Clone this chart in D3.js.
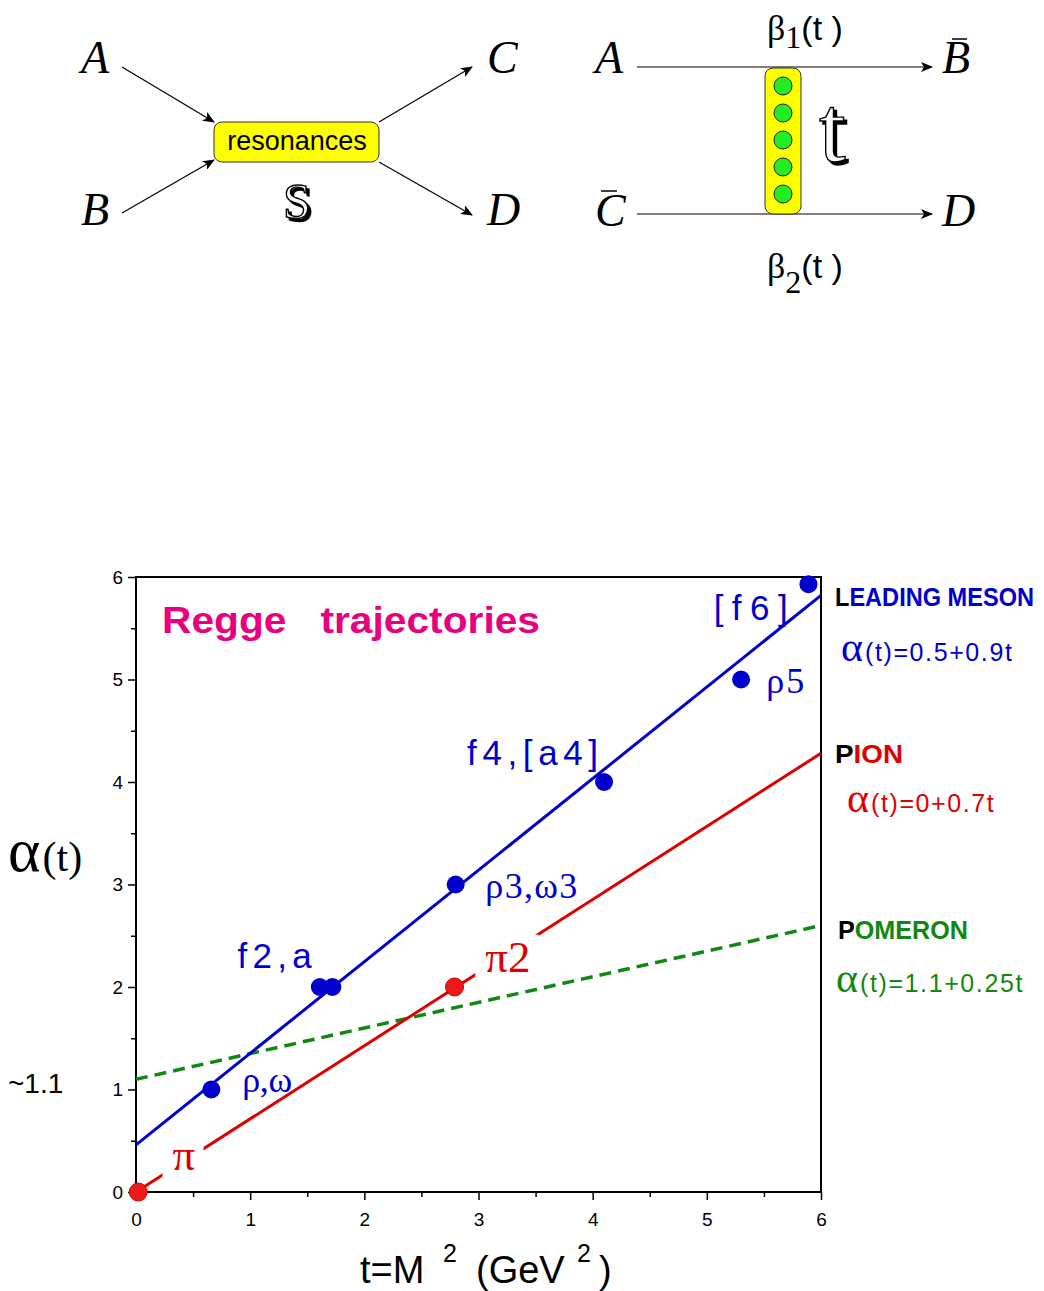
<!DOCTYPE html>
<html>
<head>
<meta charset="utf-8">
<script src="https://cdn.jsdelivr.net/npm/d3@7/dist/d3.min.js"></script>
<style>
  html, body { margin: 0; padding: 0; background: #fff; }
  svg { display: block; }
  .sans { font-family: "Liberation Sans", Arial, sans-serif; }
  .serif { font-family: "Liberation Serif", "Times New Roman", serif; }
</style>
</head>
<body>
<svg id="chart" width="1044" height="1291"></svg>
<script>
// --- data ---
const xTicks = [0, 1, 2, 3, 4, 5, 6];
const yTicks = [0, 1, 2, 3, 4, 5, 6];
const minorTicks = [0.5, 1.5, 2.5, 3.5, 4.5, 5.5];

// leading meson states (t = M^2, alpha)
const mesonT = [0.66, 1.61, 1.72, 2.80, 4.10, 5.30, 5.89];
const mesonAlpha = [1, 2, 2, 3, 4, 5, 5.93];
// pion states
const pionT = [0.02, 2.79];
const pionAlpha = [0, 2];

// trajectory lines (end points)
const mesonLine = [[0, 0.46], [6, 5.82]];
const pionLine = [[0, 0], [6, 4.28]];
const pomeronLine = [[0, 1.1], [6, 2.6]];

// state labels: text, t, alpha of baseline start
const mesonLabels = [
  { text: '[f6]', t: 5.06, a: 5.58, font: 'sans' },
  { text: 'ρ5', t: 5.52, a: 4.87, font: 'serif' },
  { text: 'f4,[a4]', t: 2.90, a: 4.17, font: 'sans' },
  { text: 'ρ3,ω3', t: 3.06, a: 2.87, font: 'serif' },
  { text: 'f2,a', t: 0.89, a: 2.19, font: 'sans' },
  { text: 'ρ,ω', t: 0.93, a: 0.98, font: 'serif' }
];
const pionLabels = [
  { text: 'π', t: 0.32, a: 0.21 },
  { text: 'π2', t: 3.06, a: 2.15 }
];

const BLUE = '#0000cc', RED = '#dd0000', GREEN = '#118811', PINK = '#e8007f';

const svg = d3.select('#chart');

// ================= top diagrams =================
const defs = svg.append('defs');
defs.append('marker')
    .attr('id', 'arr')
    .attr('viewBox', '0 0 12 10')
    .attr('refX', 11).attr('refY', 5)
    .attr('markerWidth', 12).attr('markerHeight', 10)
    .attr('markerUnits', 'userSpaceOnUse')
    .attr('orient', 'auto')
  .append('path')
    .attr('d', 'M0,0 L12,5 L0,10 L3,5 Z')
    .attr('fill', '#000');
// black drop shadow for the outlined letters
const shadow = defs.append('filter').attr('id', 'shadow')
    .attr('x', '-20%').attr('y', '-20%').attr('width', '150%').attr('height', '150%');
shadow.append('feOffset').attr('in', 'SourceAlpha').attr('dx', 3).attr('dy', 3).attr('result', 'off');
const merge = shadow.append('feMerge');
merge.append('feMergeNode').attr('in', 'off');
merge.append('feMergeNode').attr('in', 'SourceGraphic');

const diag = svg.append('g');

function letter(x, y, s) {
  diag.append('text').attr('class', 'serif')
     .attr('x', x).attr('y', y)
     .attr('font-size', 46).attr('font-style', 'italic')
     .text(s);
}
function arrow(x1, y1, x2, y2) {
  diag.append('line').attr('x1', x1).attr('y1', y1).attr('x2', x2).attr('y2', y2)
     .attr('stroke', '#000').attr('stroke-width', 1.2)
     .attr('marker-end', 'url(#arr)');
}

// s-channel
letter(81, 73, 'A');
letter(81, 225, 'B');
letter(487, 73, 'C');
letter(487, 225, 'D');
arrow(122, 67, 214, 122);
arrow(122, 213, 214, 160);
arrow(379, 122, 472, 67);
arrow(379, 162, 472, 215);
diag.append('rect').attr('x', 214).attr('y', 122).attr('width', 165).attr('height', 40)
   .attr('rx', 8).attr('fill', '#ffff00').attr('stroke', '#333').attr('stroke-width', 1);
diag.append('text').attr('class', 'sans').attr('x', 297).attr('y', 150)
   .attr('text-anchor', 'middle').attr('font-size', 27).text('resonances');
// outlined S with shadow
diag.append('text').attr('class', 'serif').attr('x', 297).attr('y', 218)
   .attr('text-anchor', 'middle').attr('font-size', 50).attr('fill', '#fff')
   .attr('stroke', '#000').attr('stroke-width', 1.4)
   .attr('filter', 'url(#shadow)').text('S');

// t-channel
letter(595, 73, 'A');
letter(942, 73, 'B');
letter(595, 226, 'C');
letter(942, 226, 'D');
diag.append('line').attr('x1', 952).attr('x2', 967).attr('y1', 39).attr('y2', 39).attr('stroke', '#000').attr('stroke-width', 1.5);
diag.append('line').attr('x1', 601).attr('x2', 617).attr('y1', 191).attr('y2', 191).attr('stroke', '#000').attr('stroke-width', 1.5);
arrow(637, 67, 932, 67);
arrow(637, 214, 932, 214);
diag.append('rect').attr('x', 765).attr('y', 68).attr('width', 36).attr('height', 146)
   .attr('rx', 8).attr('fill', '#ffff00').attr('stroke', '#333').attr('stroke-width', 1);
diag.selectAll('circle.ex').data([86, 113, 140, 167, 194]).join('circle')
   .attr('class', 'ex').attr('cx', 783).attr('cy', d => d).attr('r', 9)
   .attr('fill', '#22ee22').attr('stroke', '#222').attr('stroke-width', 1);
diag.append('text').attr('class', 'serif').attr('x', 819).attr('y', 161)
   .attr('font-size', 96).attr('fill', '#fff').attr('stroke', '#000').attr('stroke-width', 1.4)
   .attr('filter', 'url(#shadow)').text('t');

function beta(y, sub, subDy) {
  const t = diag.append('text').attr('x', 767).attr('y', y);
  t.append('tspan').attr('class', 'serif').attr('font-size', 36).text('β');
  t.append('tspan').attr('class', 'serif').attr('font-size', 32).attr('dy', subDy).text(sub);
  t.append('tspan').attr('class', 'sans').attr('font-size', 34).attr('dy', -subDy).text('(t )');
}
beta(40, '1', 8);
beta(278, '2', 15);

// ================= Regge plot =================
const x = d3.scaleLinear().domain([0, 6]).range([136, 821]);
const y = d3.scaleLinear().domain([0, 6]).range([1192, 577]);

const plot = svg.append('g');

// left axis
plot.append('g').attr('transform', `translate(${x(0)},0)`)
  .call(d3.axisLeft(y).tickValues(yTicks).tickSize(8).tickPadding(5).tickFormat(d3.format('d')));
plot.append('g').attr('transform', `translate(${x(0)},0)`)
  .call(d3.axisLeft(y).tickValues(minorTicks).tickSize(5).tickFormat(''));
// bottom axis
plot.append('g').attr('transform', `translate(0,${y(0)})`)
  .call(d3.axisBottom(x).tickValues(xTicks).tickSize(8).tickPadding(13).tickFormat(d3.format('d')));
plot.append('g').attr('transform', `translate(0,${y(0)})`)
  .call(d3.axisBottom(x).tickValues(minorTicks).tickSize(5).tickFormat(''));
plot.selectAll('.domain').remove();
plot.selectAll('.tick line').attr('stroke', '#000').attr('stroke-width', 1.5);
plot.selectAll('.tick text').attr('font-family', '"Liberation Sans", Arial, sans-serif')
    .attr('font-size', 19).attr('fill', '#000');

// frame
plot.append('rect').attr('x', x(0)).attr('y', y(6))
    .attr('width', x(6) - x(0)).attr('height', y(0) - y(6))
    .attr('fill', 'none').attr('stroke', '#000').attr('stroke-width', 2);

const line = d3.line().x(d => x(d[0])).y(d => y(d[1]));

plot.append('path').datum(pomeronLine).attr('d', line)
    .attr('stroke', GREEN).attr('stroke-width', 3.5).attr('fill', 'none')
    .attr('stroke-dasharray', '12,7');
plot.append('path').datum(pionLine).attr('d', line)
    .attr('stroke', RED).attr('stroke-width', 3).attr('fill', 'none');
plot.append('path').datum(mesonLine).attr('d', line)
    .attr('stroke', BLUE).attr('stroke-width', 3).attr('fill', 'none');

// pion labels sit on white patches that hide the trajectory
const pionG = plot.append('g');
pionLabels.forEach(l => {
  const g = pionG.append('g');
  const rect = g.append('rect').attr('fill', '#fff');
  const txt = g.append('text').attr('class', 'serif')
    .attr('x', x(l.t)).attr('y', y(l.a))
    .attr('font-size', 45).attr('fill', RED).text(l.text);
  const b = txt.node().getBBox();
  rect.attr('x', b.x - 10).attr('y', b.y + 3).attr('width', b.width + 18).attr('height', b.height - 4);
});

// meson labels, stretched to the widths seen in the picture
const labelWidth = { '[f6]': 74, 'ρ5': 38, 'f4,[a4]': 131, 'ρ3,ω3': 92, 'f2,a': 74, 'ρ,ω': 50 };
plot.selectAll('text.mlab').data(mesonLabels).join('text')
    .attr('class', d => 'mlab ' + d.font)
    .attr('x', d => x(d.t)).attr('y', d => y(d.a))
    .attr('font-size', d => d.font === 'sans' ? 35 : 36)
    .attr('textLength', d => labelWidth[d.text])
    .attr('lengthAdjust', 'spacing')
    .attr('fill', BLUE)
    .text(d => d.text);

// points
plot.selectAll('circle.meson').data(mesonT).join('circle')
    .attr('class', 'meson')
    .attr('cx', d => x(d)).attr('cy', (d, i) => y(mesonAlpha[i]))
    .attr('r', 9).attr('fill', BLUE);
plot.selectAll('circle.pion').data(pionT).join('circle')
    .attr('class', 'pion')
    .attr('cx', d => x(d)).attr('cy', (d, i) => y(pionAlpha[i]))
    .attr('r', 9).attr('fill', '#ee1a1a').attr('stroke', '#cc0000').attr('stroke-width', 1);

// title
svg.append('text').attr('class', 'sans').attr('x', 162).attr('y', 633)
   .attr('font-size', 36).attr('font-weight', 'bold').attr('fill', PINK)
   .attr('textLength', 378).attr('lengthAdjust', 'spacingAndGlyphs')
   .attr('xml:space', 'preserve')
   .text('Regge   trajectories');

// right side legend
function head(xp, yp, first, rest, color, len) {
  const t = svg.append('text').attr('class', 'sans').attr('x', xp).attr('y', yp)
    .attr('font-size', 25).attr('font-weight', 'bold')
    .attr('textLength', len).attr('lengthAdjust', 'spacingAndGlyphs');
  t.append('tspan').attr('fill', '#000').text(first);
  t.append('tspan').attr('fill', color).text(rest);
}
function formula(xp, yp, rest, color) {
  const t = svg.append('text').attr('x', xp).attr('y', yp).attr('fill', color);
  t.append('tspan').attr('class', 'serif').attr('font-size', 42).text('α');
  t.append('tspan').attr('class', 'sans').attr('font-size', 25).attr('dx', 2)
   .attr('letter-spacing', 1.6).text(rest);
}
head(835, 606, 'L', 'EADING MESON', BLUE, 199);
formula(841, 661, '(t)=0.5+0.9t', BLUE);
head(835, 763, 'P', 'ION', RED, 68);
formula(847, 812, '(t)=0+0.7t', RED);
head(838, 939, 'P', 'OMERON', GREEN, 130);
formula(836, 992, '(t)=1.1+0.25t', GREEN);

// y axis title
const yt = svg.append('text').attr('x', 8).attr('y', 871).attr('class', 'serif');
yt.append('tspan').attr('font-size', 62).text('α');
yt.append('tspan').attr('font-size', 42).attr('dx', 2).text('(t)');
svg.append('text').attr('class', 'sans').attr('x', 8).attr('y', 1093)
   .attr('font-size', 28).text('~1.1');

// x axis title
const xt = svg.append('text').attr('class', 'sans').attr('y', 1283).attr('font-size', 38);
xt.append('tspan').attr('x', 360).text('t=M');
xt.append('tspan').attr('x', 443).attr('font-size', 25).attr('dy', -21).text('2');
xt.append('tspan').attr('x', 476).attr('dy', 21).text('(GeV');
xt.append('tspan').attr('x', 577).attr('font-size', 25).attr('dy', -21).text('2');
xt.append('tspan').attr('x', 599).attr('dy', 21).text(')');
</script>
</body>
</html>
